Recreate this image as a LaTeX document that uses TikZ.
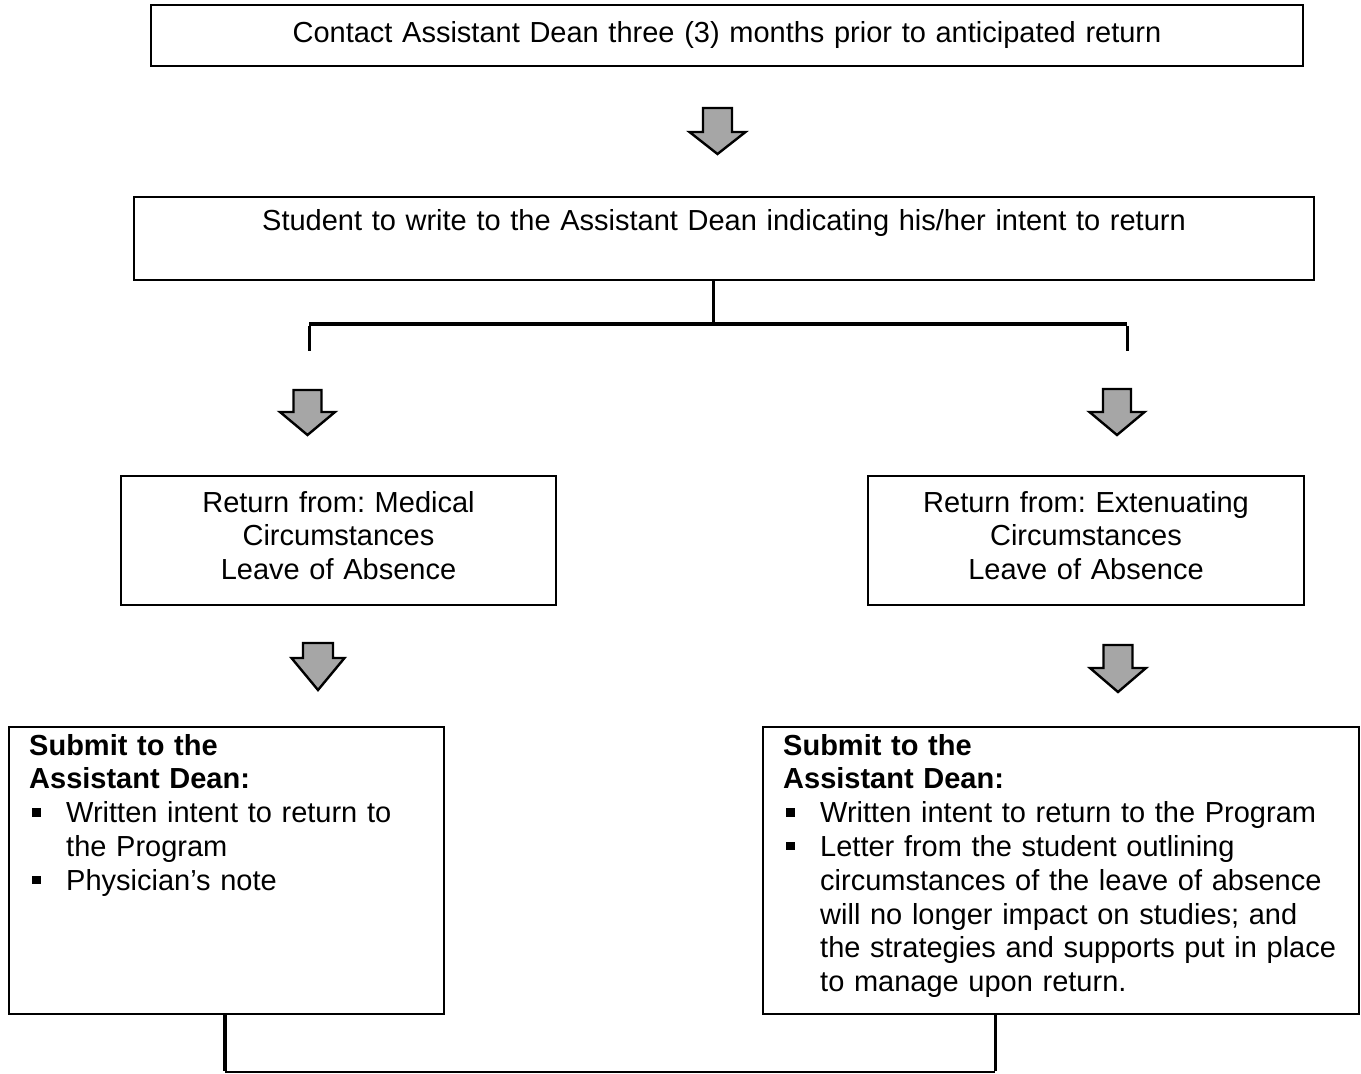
\documentclass[tikz,border=0pt]{standalone}
\usepackage{fontspec}
\setmainfont{Liberation Sans}
\frenchspacing
\definecolor{arrowgray}{RGB}{166,166,166}
\newcommand\fsz{\fontsize{29}{33.8}\selectfont\frenchspacing}
\newcommand\bul{\makebox[34pt][l]{\rule[6pt]{8.5pt}{8.5pt}}}
\newcommand\blockarrow[6]{%
  \draw[barrow] (#1-#5,#2) -- (#1+#5,#2) -- (#1+#5,#2+#3) -- (#1+#6,#2+#3)
    -- (#1,#2+#3+#4) -- (#1-#6,#2+#3) -- (#1-#5,#2+#3) -- cycle;}
\tikzset{
  box/.style={draw, line width=1.8pt, inner sep=0pt},
  txt/.style={inner sep=0pt, font=\fsz},
  barrow/.style={draw, fill=arrowgray, line width=2.4pt, line join=miter},
  conn/.style={draw, line width=3pt}
}
\begin{document}
\begin{tikzpicture}[x=1pt,y=-1pt]
\useasboundingbox (0,0) rectangle (1361,1074);
% boxes
\node[box, minimum width=1152pt, minimum height=61pt] (top) at (727,35.5) {};
\node[box, minimum width=1180pt, minimum height=83pt] (student) at (724,238.5) {};
\node[box, minimum width=435pt, minimum height=129pt] (medical) at (338.5,540.5) {};
\node[box, minimum width=436pt, minimum height=129pt] (exten) at (1086,540.5) {};
\node[box, minimum width=435pt, minimum height=287pt] (lsub) at (226.5,870.5) {};
\node[box, minimum width=596pt, minimum height=287pt] (rsub) at (1061,870.5) {};
% texts
\node[txt, anchor=base, text width=1120pt, align=center] (topt) at (727,42)
  {Contact Assistant Dean three (3) months prior to anticipated return};
\node[txt, anchor=base, text width=1140pt, align=center] (studentt) at (724,230)
  {Student to write to the Assistant Dean indicating his/her intent to return};
\node[txt, anchor=base, text width=420pt, align=center] (medicalt) at (338.5,512)
  {Return from: Medical\\Circumstances\\Leave of Absence};
\node[txt, anchor=base, text width=420pt, align=center] (extent) at (1086,512)
  {Return from: Extenuating\\Circumstances\\Leave of Absence};
\node[txt, anchor=base west, text width=410pt, align=left] (lsubt) at (29,755)
  {\textbf{Submit to the}\\
   \textbf{Assistant Dean:}\\
   \hspace*{3pt}\bul Written intent to return to\\
   \hspace*{37pt}the Program\\
   \hspace*{3pt}\bul Physician’s note};
\node[txt, anchor=base west, text width=570pt, align=left] (rsubt) at (783,755)
  {\textbf{Submit to the}\\
   \textbf{Assistant Dean:}\\
   \hspace*{3pt}\bul Written intent to return to the Program\\
   \hspace*{3pt}\bul Letter from the student outlining\\
   \hspace*{37pt}circumstances of the leave of absence\\
   \hspace*{37pt}will no longer impact on studies; and\\
   \hspace*{37pt}the strategies and supports put in place\\
   \hspace*{37pt}to manage upon return.};
% block arrows
\blockarrow{717.5}{108}{24}{22}{14.5}{28}
\blockarrow{307.5}{390}{22}{23}{14}{27.5}
\blockarrow{1117}{389}{23}{23}{14}{27.5}
\blockarrow{318}{643}{15}{32}{15}{26.5}
\blockarrow{1118}{645}{23}{24}{14.5}{28}
% split connector
\coordinate (split) at (713,324);
\coordinate (bl) at (309,324);
\coordinate (br) at (1127,324);
\coordinate (blend) at (309,351);
\coordinate (brend) at (1127,351);
\draw[conn] (student.south -| split) -- (split);
\draw[line width=4pt] (bl) -- (br);
\draw[conn] ([yshift=-2pt]bl) -- (blend);
\draw[conn] ([yshift=-2pt]br) -- (brend);
% bottom connector
\coordinate (jl) at (225,1072);
\coordinate (jr) at (995,1072);
\draw[line width=4pt] (lsub.south -| jl) -- ([yshift=1pt]jl);
\draw[line width=2pt] (jl) -- (jr);
\draw[conn] (rsub.south -| jr) -- ([yshift=1pt]jr);
\end{tikzpicture}
\end{document}
